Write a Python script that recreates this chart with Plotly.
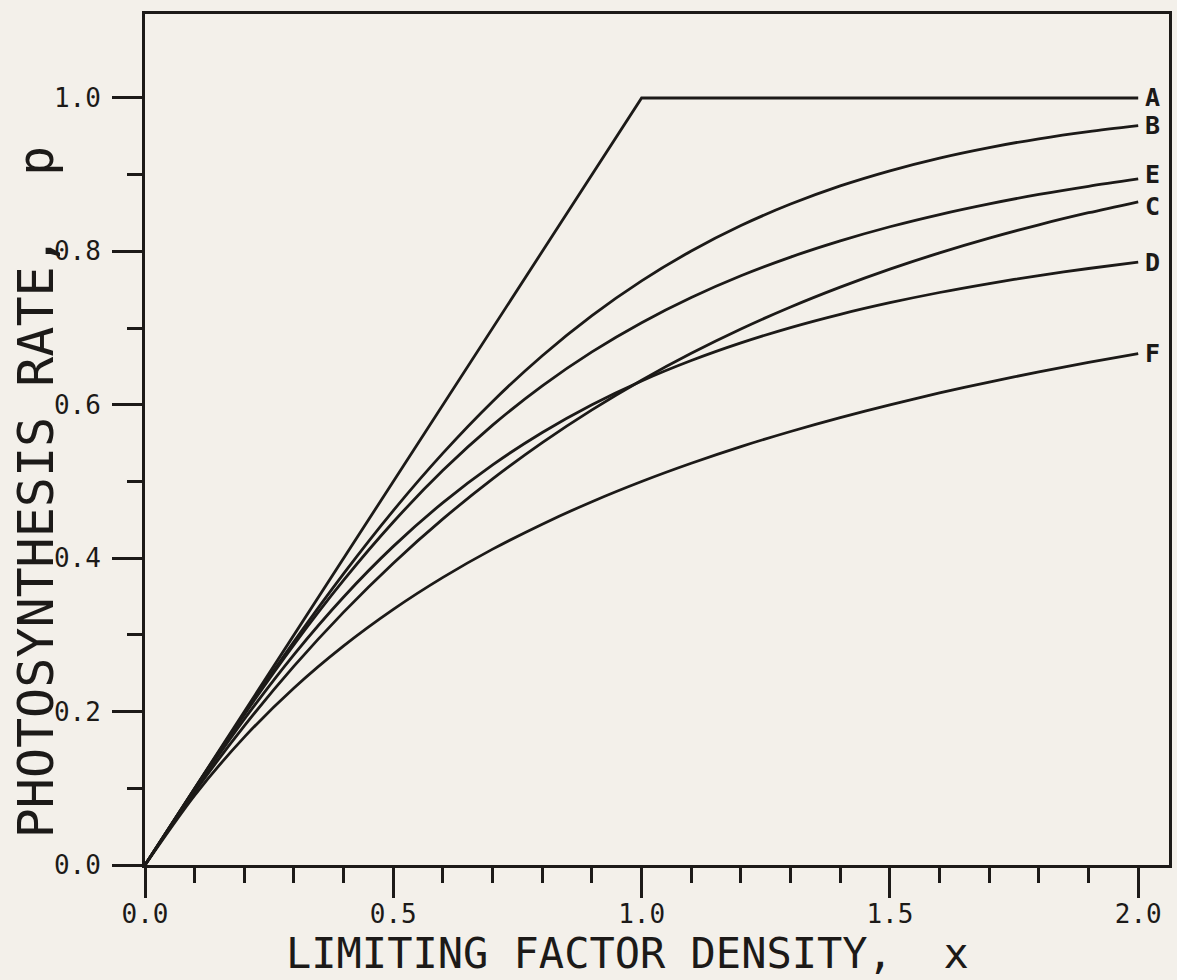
import plotly.graph_objects as go

# ---- data ----
x_vals = [0.0, 0.1, 0.2, 0.3, 0.4, 0.5, 0.6, 0.7, 0.8, 0.9, 1.0,
          1.1, 1.2, 1.3, 1.4, 1.5, 1.6, 1.7, 1.8, 1.9, 2.0]

a_x = [0.0, 1.0, 2.0]
a_y = [0.0, 1.0, 1.0]

b_y = [0.0, 0.0997, 0.1974, 0.2913, 0.3799, 0.4621, 0.5370, 0.6044, 0.6640, 0.7163, 0.7616,
       0.8005, 0.8337, 0.8617, 0.8854, 0.9051, 0.9217, 0.9354, 0.9468, 0.9562, 0.9640]
e_y = [0.0, 0.0995, 0.1961, 0.2874, 0.3714, 0.4472, 0.5145, 0.5735, 0.6247, 0.6690, 0.7071,
       0.7399, 0.7682, 0.7926, 0.8137, 0.8321, 0.8480, 0.8619, 0.8742, 0.8849, 0.8944]
c_y = [0.0, 0.0952, 0.1813, 0.2592, 0.3297, 0.3935, 0.4512, 0.5034, 0.5507, 0.5934, 0.6321,
       0.6671, 0.6988, 0.7275, 0.7534, 0.7769, 0.7981, 0.8173, 0.8347, 0.8504, 0.8647]
d_y = [0.0, 0.0980, 0.1902, 0.2744, 0.3495, 0.4154, 0.4725, 0.5217, 0.5639, 0.6001, 0.6311,
       0.6577, 0.6807, 0.7007, 0.7180, 0.7331, 0.7464, 0.7581, 0.7685, 0.7777, 0.7860]
f_y = [0.0, 0.0909, 0.1667, 0.2308, 0.2857, 0.3333, 0.3750, 0.4118, 0.4444, 0.4737, 0.5000,
       0.5238, 0.5455, 0.5652, 0.5833, 0.6000, 0.6154, 0.6296, 0.6429, 0.6552, 0.6667]

curve_labels = ["A", "B", "E", "C", "D", "F"]
label_nudge = {"A": 0.0, "B": 0.0, "E": 0.006, "C": -0.006, "D": 0.0, "F": 0.0}

x_tick_vals = [0.0, 0.5, 1.0, 1.5, 2.0]
x_tick_text = ["0.0", "0.5", "1.0", "1.5", "2.0"]
y_tick_vals = [0.0, 0.2, 0.4, 0.6, 0.8, 1.0]
y_tick_text = ["0.0", "0.2", "0.4", "0.6", "0.8", "1.0"]
x_minor_vals = [0.1, 0.2, 0.3, 0.4, 0.6, 0.7, 0.8, 0.9, 1.1, 1.2, 1.3, 1.4, 1.6, 1.7, 1.8, 1.9]
y_minor_vals = [0.1, 0.3, 0.5, 0.7, 0.9]

x_title = "LIMITING FACTOR DENSITY,  x"
y_title = "PHOTOSYNTHESIS RATE,  p"

# ---- styling ----
BG = "#f3f0ea"
INK = "#1c1a18"
FONT = "DejaVu Sans Mono"

# plot area in pixels
L, R, T, B = 145, 5, 14, 115
W, H = 1177, 980
PW, PH = W - L - R, H - T - B

series = {
    "A": (a_x, a_y),
    "B": (x_vals, b_y),
    "E": (x_vals, e_y),
    "C": (x_vals, c_y),
    "D": (x_vals, d_y),
    "F": (x_vals, f_y),
}

fig = go.Figure()
for name in curve_labels:
    xs, ys = series[name]
    fig.add_trace(go.Scatter(
        x=xs, y=ys, mode="lines", name=name,
        line=dict(color=INK, width=2.8, shape="linear" if name == "A" else "spline", smoothing=0.8),
        showlegend=False, hoverinfo="skip",
    ))
    fig.add_annotation(
        x=xs[-1], y=ys[-1] + label_nudge[name], xref="x", yref="y",
        text="<b>" + name + "</b>", showarrow=False, xanchor="left", yanchor="middle", xshift=5,
        font=dict(family=FONT, size=25, color=INK),
    )

# axis titles placed by pixel position
fig.add_annotation(
    x=(629 - L) / PW, y=-(953 - (T + PH)) / PH, xref="paper", yref="paper",
    text=x_title, showarrow=False, xanchor="center", yanchor="middle",
    font=dict(family=FONT, size=42, color=INK),
)
fig.add_annotation(
    x=-(L - 36) / PW, y=((T + PH) - 492) / PH, xref="paper", yref="paper",
    text=y_title, showarrow=False, textangle=-90, xanchor="center", yanchor="middle",
    font=dict(family=FONT, size=50, color=INK),
)

axis_common = dict(
    showline=True, linecolor=INK, linewidth=2.8, mirror=True,
    showgrid=False, zeroline=False,
    ticks="outside", tickwidth=2.8, tickcolor=INK, ticklen=30,
    tickfont=dict(family=FONT, size=26, color=INK),
)

fig.update_layout(
    width=W, height=H,
    paper_bgcolor=BG, plot_bgcolor=BG,
    margin=dict(l=L, r=R, t=T, b=B),
    xaxis=dict(
        range=[0, 2.062], tickmode="array", tickvals=x_tick_vals, ticktext=x_tick_text,
        minor=dict(tickmode="array", tickvals=x_minor_vals, ticks="outside", ticklen=15,
                   tickwidth=2.8, tickcolor=INK, showgrid=False),
        ticklabelstandoff=-6,
        **axis_common,
    ),
    yaxis=dict(
        range=[0, 1.1095], tickmode="array", tickvals=y_tick_vals, ticktext=y_tick_text,
        minor=dict(tickmode="array", tickvals=y_minor_vals, ticks="outside", ticklen=15,
                   tickwidth=2.8, tickcolor=INK, showgrid=False),
        ticklabelstandoff=6,
        **axis_common,
    ),
)

fig.write_html("out.html")
